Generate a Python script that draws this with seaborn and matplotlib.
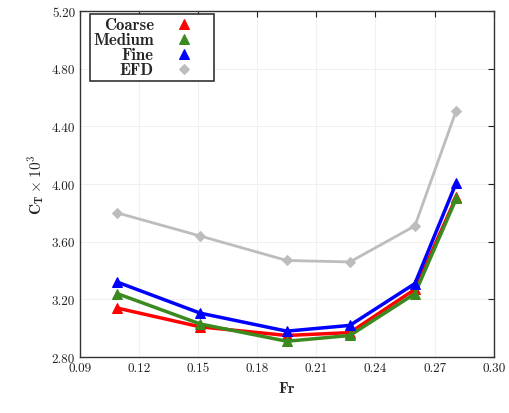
import matplotlib
matplotlib.use("Agg")
import matplotlib.pyplot as plt
import seaborn as sns
import pandas as pd
from matplotlib.ticker import FixedLocator, FormatStrFormatter

fr = [0.109, 0.151, 0.195, 0.227, 0.260, 0.281]
coarse = [3.14, 3.01, 2.95, 2.97, 3.27, 3.91]
medium = [3.24, 3.03, 2.91, 2.95, 3.24, 3.90]
fine = [3.32, 3.105, 2.98, 3.02, 3.31, 4.01]
efd = [3.80, 3.64, 3.47, 3.46, 3.71, 4.51]

series = ["Coarse", "Medium", "Fine", "EFD"]
values = [coarse, medium, fine, efd]
colors = ["#ff0000", "#3a8a1f", "#0000ff", "#bdbdbd"]
markers = ["^", "^", "^", "D"]

xticks = [0.09, 0.12, 0.15, 0.18, 0.21, 0.24, 0.27, 0.30]
yticks = [2.80, 3.20, 3.60, 4.00, 4.40, 4.80, 5.20]

df = pd.concat([pd.DataFrame({"Fr": fr, "CT": v, "case": s}) for s, v in zip(series, values)])

sns.set_style("white")
plt.rcParams["font.family"] = ["cmr10", "DejaVu Serif"]
plt.rcParams["mathtext.fontset"] = "cm"
plt.rcParams["axes.unicode_minus"] = False

fig = plt.figure(figsize=(5.09, 4.14), dpi=100)
ax = fig.add_axes([0.157, 0.135, 0.813, 0.836])

order = ["EFD", "Coarse", "Medium", "Fine"]
for s in order:
    i = series.index(s)
    sub = df[df["case"] == s]
    sns.lineplot(data=sub, x="Fr", y="CT", ax=ax, color=colors[i], marker=markers[i],
                 markersize=7 if markers[i] == "^" else 5, markeredgecolor=colors[i],
                 linewidth=2.5 if s != "EFD" else 2.0, label=s, legend=False)

ax.set_xlim(0.09, 0.30)
ax.set_ylim(2.80, 5.20)
ax.xaxis.set_major_locator(FixedLocator(xticks))
ax.yaxis.set_major_locator(FixedLocator(yticks))
ax.xaxis.set_major_formatter(FormatStrFormatter("%.2f"))
ax.yaxis.set_major_formatter(FormatStrFormatter("%.2f"))
ax.tick_params(axis="both", direction="in", length=4, width=0.8, labelsize=9.5,
               top=True, right=True, colors="#222222")
ax.grid(True, color="#f0f0f0", linewidth=0.8)
for sp in ax.spines.values():
    sp.set_color("#333333")
    sp.set_linewidth(1.0)

ax.set_xlabel(r"$\mathbf{Fr}$", fontsize=11)
ax.set_ylabel(r"$\mathbf{C_T\times 10^3}$", fontsize=11)

handles, labels = ax.get_legend_handles_labels()
hmap = dict(zip(labels, handles))
leg = ax.legend([hmap[s] for s in series], series, loc="upper left",
                bbox_to_anchor=(0.024, 0.991), borderaxespad=0.0, markerfirst=False,
                frameon=True, fancybox=False, edgecolor="#333333", framealpha=1,
                prop={"family": "cmb10", "size": 12}, handlelength=3.2,
                labelspacing=0.0, handletextpad=0.2, borderpad=0.2)
for t in leg.get_texts():
    t.set_ha("right")
for h in leg.legend_handles:
    h.set_linestyle("none")
leg.get_frame().set_linewidth(1.2)

fig.savefig("out.png", dpi=100)
